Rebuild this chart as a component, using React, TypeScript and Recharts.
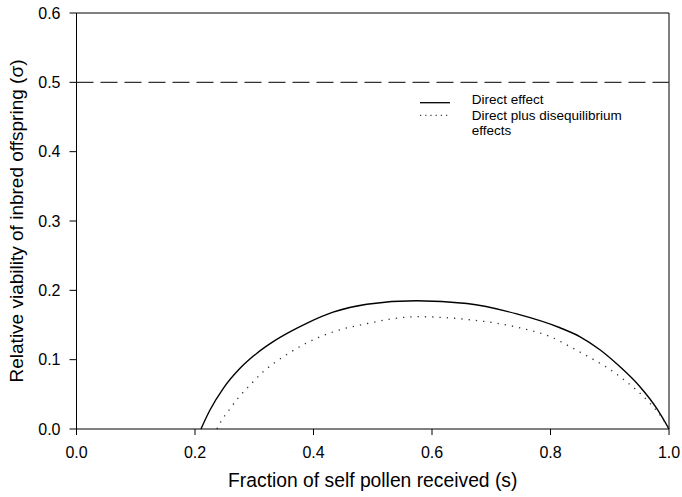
import { LineChart, Line, XAxis, YAxis, ReferenceLine } from 'recharts';

// fraction of self pollen (s) and relative viability (sigma)
const directS = [0.21, 0.2253, 0.2478, 0.276, 0.304, 0.332, 0.36, 0.391, 0.433, 0.49, 0.574, 0.659, 0.743, 0.816, 0.85, 0.884, 0.917, 0.951, 0.979, 1.0];
const directV = [0, 0.0274, 0.0587, 0.0875, 0.109, 0.126, 0.14, 0.1535, 0.1685, 0.18, 0.185, 0.181, 0.166, 0.146, 0.133, 0.114, 0.09, 0.061, 0.03, 0];
const dottedS = [0.237, 0.243, 0.258, 0.274, 0.293, 0.313, 0.335, 0.356, 0.388, 0.433, 0.49, 0.574, 0.659, 0.743, 0.8, 0.841, 0.872, 0.895, 0.926, 0.948, 0.968, 0.985, 1.0];
const dottedV = [0, 0.0097, 0.028, 0.046, 0.0635, 0.081, 0.096, 0.108, 0.124, 0.14, 0.152, 0.162, 0.158, 0.147, 0.133, 0.115, 0.1005, 0.089, 0.0697, 0.054, 0.037, 0.02, 0];
const xTicks = [0, 0.2, 0.4, 0.6, 0.8, 1.0];
const yTicks = [0, 0.1, 0.2, 0.3, 0.4, 0.5, 0.6];
const threshold = 0.5;

const FONT = '"Liberation Sans", Arial, sans-serif';

const directData = directS.map((s, i) => ({ s, v: directV[i] }));
const dottedData = dottedS.map((s, i) => ({ s, v: dottedV[i] }));

function LegendBox() {
  return (
    <svg width={250} height={56} style={{ position: 'absolute', left: 420, top: 86 }}>
      <line x1={0} x2={30} y1={16.7} y2={16.7} stroke="#000" strokeWidth={1.3} />
      <text x={51.7} y={18} fontSize={13.5} fontFamily={FONT} fill="#000">Direct effect</text>
      <line x1={0} x2={30} y1={29.3} y2={29.3} stroke="#444" strokeWidth={1.2} strokeDasharray="1.2 4" />
      <text x={51.7} y={33.5} fontSize={13.5} fontFamily={FONT} fill="#000">Direct plus disequilibrium</text>
      <text x={51.7} y={49} fontSize={13.5} fontFamily={FONT} fill="#000">effects</text>
    </svg>
  );
}

export default function App() {
  return (
    <div style={{ position: 'absolute', left: 0, top: 0, width: 682, height: 497, background: '#fff' }}>
      <LineChart width={682} height={497} margin={{ top: 13, right: 13, left: 0, bottom: 0 }}>
        <XAxis
          dataKey="s"
          type="number"
          domain={[0, 1]}
          ticks={xTicks}
          tickFormatter={(v: number) => v.toFixed(1)}
          allowDuplicatedCategory={false}
          height={68}
          tickSize={6}
          tickMargin={12}
          stroke="#000"
          tick={{ fill: '#000', fontSize: 16, fontFamily: FONT }}
          label={{ value: 'Fraction of self pollen received (s)', position: 'insideBottom', offset: 10, fill: '#000', fontSize: 19.3, fontFamily: FONT }}
        />
        <YAxis
          type="number"
          domain={[0, 0.6]}
          ticks={yTicks}
          tickFormatter={(v: number) => v.toFixed(1)}
          width={76.5}
          tickSize={7}
          tickMargin={9}
          stroke="#000"
          tick={{ fill: '#000', fontSize: 16, fontFamily: FONT }}
          label={{ value: 'Relative viability of inbred offspring (\u03c3)', angle: -90, position: 'insideLeft', offset: 16, style: { textAnchor: 'middle' }, fill: '#000', fontSize: 19, fontFamily: FONT }}
        />
        <ReferenceLine y={0.6} stroke="#000" />
        <ReferenceLine x={1} stroke="#000" />
        <ReferenceLine y={threshold} stroke="#333" strokeWidth={1.2} strokeDasharray="17 7" />
        <Line data={directData} dataKey="v" type="monotone" stroke="#000" strokeWidth={1.4} dot={false} isAnimationActive={false} name="Direct effect" />
        <Line data={dottedData} dataKey="v" type="monotone" stroke="#333" strokeWidth={1.3} strokeDasharray="1.3 6" dot={false} isAnimationActive={false} name="Direct plus disequilibrium effects" />
      </LineChart>
      <LegendBox />
    </div>
  );
}
